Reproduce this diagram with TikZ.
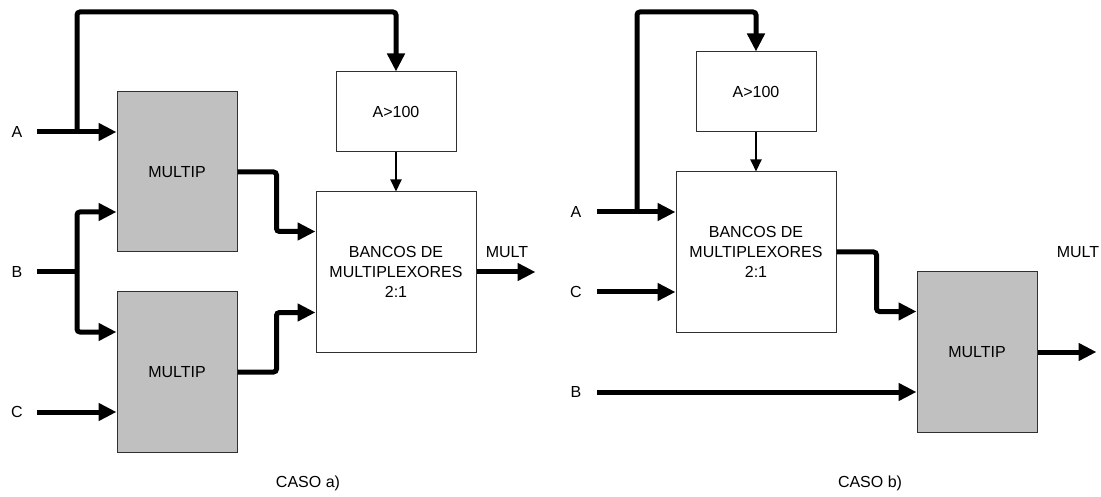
\documentclass[tikz,border=0pt]{standalone}
\usepackage{fontspec}
\setmainfont{Liberation Sans}
\usetikzlibrary{arrows.meta,calc}
\definecolor{blockgray}{HTML}{C0C0C0}
\definecolor{edgegray}{HTML}{303030}
\begin{document}
\begin{tikzpicture}[x=1pt,y=-1pt,
  font=\fontsize{16}{20}\selectfont,
  block/.style={draw=edgegray, line width=1pt, inner sep=0pt, align=center},
  multbox/.style={block, fill=blockgray, minimum width=120pt, minimum height=160pt},
  cmpbox/.style={block, fill=white, minimum width=120pt, minimum height=80pt},
  muxbox/.style={block, fill=white, minimum width=160pt, minimum height=160pt},
  bus/.style={line width=5pt, rounded corners=3pt, -{Triangle[length=18pt,width=17pt]}},
  busline/.style={line width=5pt, rounded corners=3pt},
  ctl/.style={line width=2pt, -{Triangle[length=12pt,width=11pt]}},
  lbl/.style={inner sep=0pt}]
\useasboundingbox (0,0) rectangle (1101,497);

% ---------------- case a) ----------------
\node[multbox] (m1) at (177,172) {MULTIP};
\node[multbox] (m2) at (177,372) {MULTIP};
\node[cmpbox]  (cmpA) at (396,112) {A>100};
\node[muxbox]  (muxA) at (396,272) {BANCOS DE\\MULTIPLEXORES\\2:1};

\node[lbl] (la) at (17,132) {A};
\node[lbl] (lb) at (17,272) {B};
\node[lbl] (lc) at (17,412) {C};
\node[lbl] (outA) at (507,252) {MULT};
\node[lbl] (casoA) at (308,483) {CASO a)};

\coordinate (a0) at (37,132);
\coordinate (aj) at (77,132);
\coordinate (atop) at (77,12);
\coordinate (b0) at (37,272);
\coordinate (bj) at (77,272);
\coordinate (b1) at (77,212);
\coordinate (b2) at (77,332);
\coordinate (c0) at (37,412);

\draw[bus] (a0) -- (m1.west |- a0);
\draw[bus] (aj) -- (atop) -- (cmpA.north |- atop) -- (cmpA.north);
\draw[busline] (b0) -- (bj);
\draw[bus] (bj) -- (b1) -- (m1.west |- b1);
\draw[bus] (bj) -- (b2) -- (m2.west |- b2);
\draw[bus] (c0) -- (m2.west |- c0);

\draw[bus] (m1.east) -- ++(39,0) |- ($(muxA.north west)+(0,40)$);
\draw[bus] (m2.east) -- ++(39,0) |- ($(muxA.south west)+(0,-40)$);
\draw[ctl] (cmpA.south) -- (muxA.north);
\draw[bus] (muxA.east) -- ++(59,0);

% ---------------- case b) ----------------
\node[cmpbox]  (cmpB) at (756,92) {A>100};
\node[muxbox]  (muxB) at (756,252) {BANCOS DE\\MULTIPLEXORES\\2:1};
\node[multbox] (m3) at (977,352) {MULTIP};

\node[lbl] (la2) at (576,212) {A};
\node[lbl] (lc2) at (576,292) {C};
\node[lbl] (lb2) at (576,392) {B};
\node[lbl] (outB) at (1078,252) {MULT};
\node[lbl] (casoB) at (870,483) {CASO b)};

\coordinate (a2) at (597,212);
\coordinate (aj2) at (637,212);
\coordinate (atop2) at (637,12);
\coordinate (c2) at (597,292);
\coordinate (b3) at (597,392);

\draw[bus] (a2) -- (muxB.west |- a2);
\draw[bus] (aj2) -- (atop2) -- (cmpB.north |- atop2) -- (cmpB.north);
\draw[bus] (c2) -- (muxB.west |- c2);
\draw[ctl] (cmpB.south) -- (muxB.north);
\draw[bus] (muxB.east) -- ++(40,0) |- ($(m3.north west)+(0,40)$);
\draw[bus] (b3) -- (m3.west |- b3);
\draw[bus] (m3.east) -- ++(59,0);
\end{tikzpicture}
\end{document}
